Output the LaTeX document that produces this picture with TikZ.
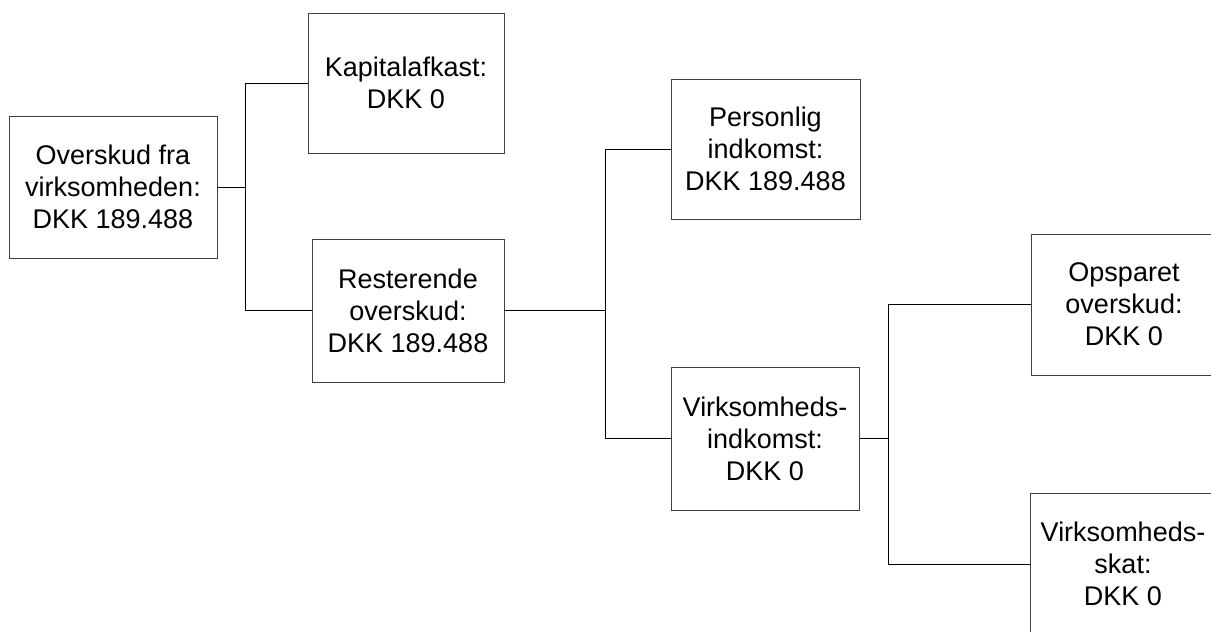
\documentclass[tikz,border=0pt]{standalone}
\usepackage{fontspec}
\setmainfont{Liberation Sans}
\begin{document}
\begin{tikzpicture}[x=1pt,y=-1pt,
  box/.style={draw=black!75, line width=1pt, fill=white, rectangle, inner sep=0pt,
    align=center, font=\fontsize{27}{32}\selectfont},
  conn/.style={draw=black, line width=1pt}]
\useasboundingbox (0,0) rectangle (1211,632);
\node[box, minimum width=208pt, minimum height=142pt] (A) at (113,187) {Overskud fra\\virksomheden:\\DKK 189.488};
\node[box, minimum width=196pt, minimum height=140pt] (B) at (406,83) {Kapitalafkast:\\DKK 0};
\node[box, minimum width=192pt, minimum height=143pt] (C) at (408,310.5) {Resterende\\overskud:\\DKK 189.488};
\node[box, minimum width=189pt, minimum height=140pt] (D) at (765.5,149) {Personlig\\indkomst:\\DKK 189.488};
\node[box, minimum width=188pt, minimum height=143pt] (E) at (765,438.5) {Virksomheds-\\indkomst:\\DKK 0};
\node[box, minimum width=186pt, minimum height=141pt] (F) at (1124,304.5) {Opsparet\\overskud:\\DKK 0};
\node[box, minimum width=186pt, minimum height=142pt] (G) at (1123,564) {Virksomheds-\\skat:\\DKK 0};
\coordinate (j1) at (245,187);
\coordinate (j2) at (605,310.5);
\coordinate (j3) at (888,438.5);
\draw[conn] (A.east) -- (j1);
\draw[conn] (j1) |- (B.west);
\draw[conn] (j1) |- (C.west);
\draw[conn] (C.east) -- (j2);
\draw[conn] (j2) |- (D.west);
\draw[conn] (j2) |- (E.west);
\draw[conn] (E.east) -- (j3);
\draw[conn] (j3) |- (F.west);
\draw[conn] (j3) |- (G.west);
\end{tikzpicture}
\end{document}
